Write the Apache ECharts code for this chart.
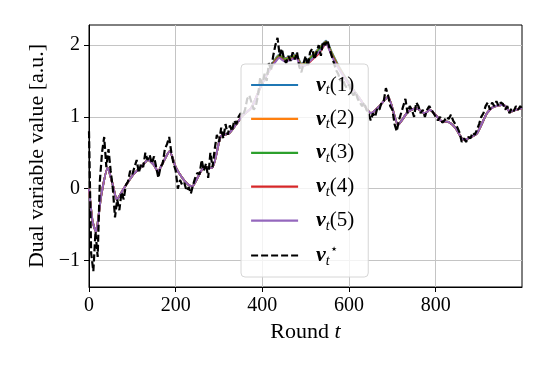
<!DOCTYPE html>
<html>
<head>
<meta charset="utf-8">
<script src="https://cdn.jsdelivr.net/npm/echarts@6/dist/echarts.min.js"></script>
<style>
html,body{margin:0;padding:0;background:#fff;}
#chart{width:548px;height:366px;}
</style>
</head>
<body>
<div id="chart"></div>
<script>
// Smooth dual variables nu_t(1..5), sampled at these rounds
const smoothRounds = [0,8,16,28,43,55,64,80,101,120,136,150,159,172,186,200,213,225,238,252,265,284,304,323,340,355,375,396,412,427,439,452,468,478,490,500,512,530,547,560,575,600,625,651,670,690,713,736,755,775,786,813,829,845,864,875,895,918,933,956,972,985,999];
const nu5 = [0.0,-0.45,-0.6,-0.1,0.29,0.05,-0.15,0.0,0.19,0.3,0.40,0.33,0.24,0.38,0.52,0.3,0.17,0.08,0.03,0.17,0.29,0.29,0.73,0.77,0.9,1.02,1.13,1.42,1.6,1.74,1.82,1.77,1.80,1.82,1.70,1.72,1.79,1.90,2.02,1.85,1.68,1.45,1.25,1.05,1.15,1.28,0.89,1.07,1.12,1.05,1.10,0.94,0.93,0.85,0.68,0.70,0.77,1.05,1.14,1.17,1.07,1.10,1.12];
const nu4 = [0.0,-0.45,-0.6,-0.1,0.29,0.05,-0.15,0.0,0.19,0.3,0.40,0.33,0.24,0.38,0.52,0.3,0.17,0.08,0.03,0.17,0.29,0.29,0.73,0.77,0.9,1.02,1.13,1.42,1.6,1.75,1.83,1.78,1.81,1.83,1.71,1.72,1.78,1.88,2.02,1.86,1.69,1.45,1.25,1.05,1.15,1.28,0.89,1.07,1.12,1.05,1.10,0.94,0.93,0.85,0.68,0.70,0.77,1.05,1.14,1.17,1.07,1.10,1.12];
const nu3 = [0.0,-0.45,-0.6,-0.1,0.29,0.05,-0.15,0.0,0.19,0.3,0.40,0.33,0.24,0.38,0.52,0.3,0.17,0.08,0.03,0.17,0.29,0.29,0.73,0.77,0.9,1.02,1.13,1.42,1.61,1.76,1.85,1.80,1.83,1.85,1.72,1.74,1.82,1.93,2.04,1.88,1.70,1.46,1.25,1.05,1.15,1.28,0.89,1.07,1.12,1.05,1.10,0.94,0.93,0.85,0.68,0.70,0.77,1.05,1.14,1.17,1.07,1.10,1.12];
const nu2 = [0.0,-0.45,-0.6,-0.1,0.29,0.05,-0.15,0.0,0.19,0.3,0.40,0.33,0.24,0.38,0.52,0.3,0.17,0.08,0.03,0.17,0.29,0.29,0.73,0.77,0.9,1.02,1.13,1.42,1.61,1.77,1.86,1.81,1.84,1.86,1.73,1.75,1.83,1.94,2.05,1.89,1.71,1.46,1.25,1.05,1.15,1.28,0.89,1.07,1.12,1.05,1.10,0.94,0.93,0.85,0.68,0.70,0.77,1.05,1.14,1.17,1.07,1.10,1.12];
const nu1 = [0.0,-0.45,-0.6,-0.1,0.29,0.05,-0.15,0.0,0.19,0.3,0.40,0.33,0.24,0.38,0.52,0.3,0.17,0.08,0.03,0.17,0.29,0.29,0.73,0.77,0.9,1.02,1.13,1.42,1.62,1.78,1.87,1.82,1.85,1.87,1.74,1.76,1.84,1.95,2.06,1.90,1.72,1.47,1.25,1.05,1.15,1.28,0.89,1.07,1.12,1.05,1.10,0.94,0.93,0.85,0.68,0.70,0.77,1.05,1.14,1.17,1.07,1.10,1.12];

// Optimal dual variable nu_t^*, one value every 5 rounds (0..995) and round 999
const nuStar = [
0.8,-0.9,-1.15,-0.6,-0.95,0.1,0.5,0.72,0.3,0.55,
0.25,0.0,-0.4,-0.15,-0.3,-0.05,-0.15,0.05,0.1,0.25,
0.2,0.3,0.4,0.22,0.35,0.3,0.5,0.4,0.47,0.35,
0.45,0.3,0.15,0.3,0.35,0.55,0.62,0.72,0.5,0.35,
0.25,0.0,0.12,0.05,0.08,-0.03,0.02,-0.07,0.05,0.15,
0.22,0.2,0.4,0.25,0.35,0.15,0.5,0.3,0.55,0.75,
0.65,0.85,0.7,0.9,0.75,0.88,0.8,0.95,0.9,1.0,
1.05,1.02,1.1,1.25,1.3,1.2,1.1,1.15,1.3,1.55,
1.45,1.6,1.5,1.75,1.65,1.85,2.0,2.1,1.85,1.95,
1.8,1.75,1.85,1.78,1.9,1.8,1.9,1.7,1.62,1.75,
1.85,1.7,1.9,1.95,1.8,1.9,2.0,1.85,2.05,2.0,
2.07,1.95,1.85,1.75,1.65,1.6,1.5,1.55,1.45,1.4,
1.45,1.35,1.3,1.35,1.25,1.2,1.15,1.2,1.1,1.05,
0.95,1.05,1.0,1.12,1.1,1.2,1.22,1.4,1.3,1.15,
1.1,0.9,0.8,0.95,1.05,1.15,1.25,1.05,1.15,1.1,
1.0,1.2,1.15,1.05,1.1,1.0,1.1,1.15,1.1,1.05,
1.0,0.95,1.0,0.92,0.95,1.0,0.97,1.03,0.95,0.9,
0.85,0.78,0.65,0.7,0.65,0.72,0.7,0.78,0.75,0.82,
0.9,1.0,1.05,1.15,1.2,1.1,1.2,1.15,1.22,1.15,
1.2,1.18,1.1,1.15,1.05,1.12,1.08,1.15,1.1,1.15,
1.12];
const starRounds = [];
for (let i = 0; i < 200; i++) starRounds.push(i * 5);
starRounds.push(999);

const xTicks = [0, 200, 400, 600, 800];
const yTicks = [-1, 0, 1, 2];
const seriesNames = ['{nu|ν}{sub|t}{n|(1)}','{nu|ν}{sub|t}{n|(2)}','{nu|ν}{sub|t}{n|(3)}','{nu|ν}{sub|t}{n|(4)}','{nu|ν}{sub|t}{n|(5)}','{nu|ν}{sub|t}{sup|⋆}'];
const colors = ['#1f77b4','#ff7f0e','#2ca02c','#d62728','#9467bd','#000000'];

const FONT = '"Liberation Serif", "DejaVu Serif", serif';
function pairs(xs, ys){ return xs.map((x,i)=>[x, ys[i]]); }

const smoothSets = [nu1, nu2, nu3, nu4, nu5];
const series = smoothSets.map((vals, k) => ({
  name: seriesNames[k], type: 'line', data: pairs(smoothRounds, vals),
  symbol: 'none', showSymbol: false, smooth: 0.2, z: 2,
  lineStyle: {color: colors[k], width: 2}, itemStyle: {color: colors[k]}
}));
series.push({
  name: seriesNames[5], type: 'line', data: pairs(starRounds, nuStar),
  symbol: 'none', showSymbol: false, z: 3,
  lineStyle: {color: '#000', width: 2.2, type: [7, 3]}, itemStyle: {color: '#000'}
});

const chart = echarts.init(document.getElementById('chart'), null, {renderer: 'canvas'});
chart.setOption({
  animation: false,
  backgroundColor: '#fff',
  grid: {left: 89, right: 26, top: 25, bottom: 79, show: true, borderColor: '#000', borderWidth: 1, backgroundColor: 'transparent'},
  xAxis: {
    type: 'value', min: 0, max: 999,
    name: '{a|Round }{i|t}', nameLocation: 'middle', nameGap: 34,
    nameTextStyle: {rich: {a: {fontFamily: FONT, fontSize: 22, color: '#000'}, i: {fontFamily: FONT, fontSize: 22, fontStyle: 'italic', color: '#000'}}},
    axisLine: {show: true, onZero: false, lineStyle: {color: '#000', width: 1}},
    axisTick: {show: true, inside: false, length: 5, lineStyle: {color: '#000'}, customValues: xTicks},
    axisLabel: {customValues: xTicks, margin: 9, fontFamily: FONT, fontSize: 20, color: '#000'},
    splitLine: {show: true, lineStyle: {color: '#c4c4c4', width: 1}}
  },
  yAxis: {
    type: 'value', min: -1.37, max: 2.28,
    name: 'Dual variable value [a.u.]', nameLocation: 'middle', nameGap: 41, nameRotate: 90,
    nameTextStyle: {fontFamily: FONT, fontSize: 22, color: '#000'},
    axisLine: {show: true, onZero: false, lineStyle: {color: '#000', width: 1}},
    axisTick: {show: true, inside: false, length: 5, lineStyle: {color: '#000'}, customValues: yTicks},
    axisLabel: {customValues: yTicks, margin: 9, fontFamily: FONT, fontSize: 20, color: '#000',
      formatter: v => String(v).replace('-', '−')},
    splitLine: {show: true, lineStyle: {color: '#c4c4c4', width: 1}}
  },
  legend: {
    orient: 'vertical', left: 241, top: 64,
    padding: [10, 14, 9, 9], itemGap: 10.4, itemWidth: 47, itemHeight: 14,
    backgroundColor: 'rgba(255,255,255,0.8)', borderColor: '#d6d6d6', borderWidth: 1, borderRadius: 4,
    z: 10,
    itemStyle: {opacity: 0},
    lineStyle: {width: 2.2},
    textStyle: {padding: [0, 0, 0, 13], rich: {
      nu: {fontFamily: FONT, fontSize: 22, fontWeight: 'bold', fontStyle: 'italic', color: '#000'},
      sub: {fontFamily: FONT, fontSize: 14, fontStyle: 'italic', color: '#000', padding: [11, 0, 0, 0]},
      sup: {fontFamily: FONT, fontSize: 13, color: '#000', padding: [0, 0, 11, 0]},
      n: {fontFamily: FONT, fontSize: 21, color: '#000'}
    }},
    data: seriesNames.map((n, k) => ({name: n}))
  },
  series: series
});
</script>
</body>
</html>
